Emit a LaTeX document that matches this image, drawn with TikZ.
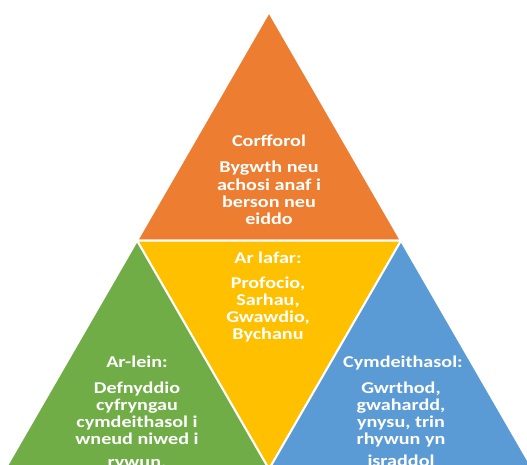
\documentclass[tikz,border=0pt]{standalone}
\usepackage{fontspec}
\newfontfamily\labfont{Carlito}[FakeStretch=1.22]
\definecolor{corange}{HTML}{ED7D31}
\definecolor{cyellow}{HTML}{FFC000}
\definecolor{cgreen}{HTML}{70AD47}
\definecolor{cblue}{HTML}{5B9BD5}
\begin{document}
\begin{tikzpicture}[x=1pt,y=-1pt,
  tri/.style={draw=white,line width=2pt,line join=miter},
  lab/.style={inner sep=0pt,anchor=base,text=white,
    font=\labfont\bfseries\fontsize{16.5}{17.3}\selectfont},
]
\useasboundingbox (0,0) rectangle (527,465);
\clip (0,0) rectangle (527,465);
\coordinate (A) at (269,12);
\coordinate (L) at (5,469.2);
\coordinate (R) at (533,469.2);
\coordinate (ML) at (137,240.6);
\coordinate (MR) at (401,240.6);
\coordinate (MB) at (269,469.2);
\filldraw[tri,fill=corange] (A) -- (ML) -- (MR) -- cycle;
\filldraw[tri,fill=cyellow] (ML) -- (MR) -- (MB) -- cycle;
\filldraw[tri,fill=cgreen] (ML) -- (L) -- (MB) -- cycle;
\filldraw[tri,fill=cblue] (MR) -- (MB) -- (R) -- cycle;
% orange
\node[lab] (t1) at (269,147) {Corfforol};
\node[lab] (b1) at (269,173) {\begin{tabular}[t]{@{}c@{}}Bygwth neu\\achosi anaf i\\berson neu\\eiddo\end{tabular}};
% yellow
\node[lab] (t2) at (268,263) {Ar lafar:};
\node[lab] (b2) at (268,288) {\begin{tabular}[t]{@{}c@{}}Profocio,\\Sarhau,\\Gwawdio,\\Bychanu\end{tabular}};
% green
\node[lab] (t3) at (137,367) {Ar-lein:};
\node[lab] (b3) at (137,393) {\begin{tabular}[t]{@{}c@{}}Defnyddio\\cyfryngau\\cymdeithasol i\\wneud niwed i\\[5pt]rywun.\end{tabular}};
% blue
\node[lab] (t4) at (403,367) {Cymdeithasol:};
\node[lab] (b4) at (401,393) {\begin{tabular}[t]{@{}c@{}}Gwrthod,\\gwahardd,\\ynysu, trin\\rhywun yn\\[4pt]israddol\end{tabular}};
\end{tikzpicture}
\end{document}
